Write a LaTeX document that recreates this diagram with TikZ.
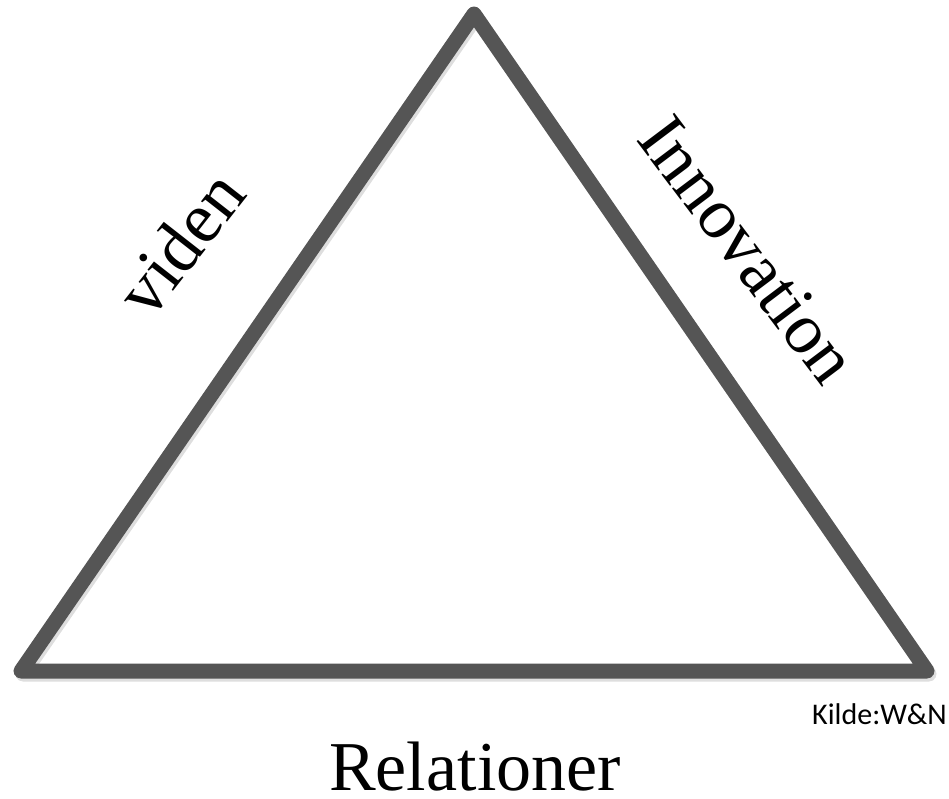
\documentclass[tikz,border=0pt]{standalone}
\usepackage{fontspec}
\setmainfont{Liberation Serif}
\newfontfamily\kildefont{Carlito}
\usetikzlibrary{positioning}
\definecolor{edge}{RGB}{85,85,85}
\definecolor{shade}{RGB}{200,200,200}

\begin{document}
\begin{tikzpicture}[x=1pt,y=-1pt,%
  side/.style={draw=edge,line width=15pt,line join=round,line cap=round},%
  sideshadow/.style={draw=shade,line width=15pt,line join=round,opacity=0.6},%
  word/.style={font=\fontsize{72}{76}\selectfont,inner sep=0pt}%
  ]
  \useasboundingbox (0,0) rectangle (949,798);
%
  \coordinate (top) at (474,14);
  \coordinate (bl)  at (21,671);
  \coordinate (br)  at (927,671);
%
  \draw[sideshadow] ([shift={(2,3)}]top) -- ([shift={(2,3)}]br) -- ([shift={(2,3)}]bl) -- cycle;
  \draw[side] (top) -- (br) -- (bl) -- cycle;
%
  \node (viden) [word,rotate=52]  at (180,243) {viden};
  \node (innov) [word,rotate=-53] at (748,250) {Innovation};
%
  \node (kilde) [font=\kildefont\fontsize{30}{32}\selectfont,inner sep=0pt,anchor=east] at (947,714) {Kilde:W\&N};
  \node (rel) [font=\fontsize{70}{74}\selectfont,inner sep=0pt] at (475,767) {Relationer};
%
\end{tikzpicture}
\end{document}
